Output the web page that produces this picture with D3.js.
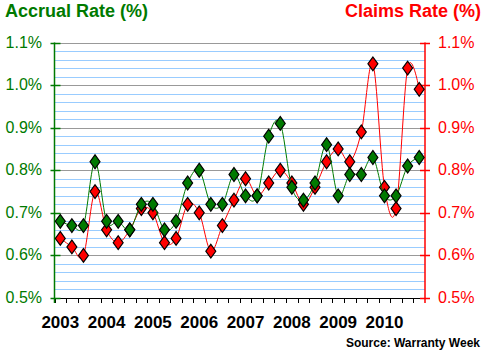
<!DOCTYPE html>
<html>
<head>
<meta charset="utf-8">
<script src="https://cdn.jsdelivr.net/npm/d3@7"></script>
<style>
  body { margin: 0; background: #fff; }
  text { font-family: "Liberation Sans", Arial, sans-serif; }
</style>
</head>
<body>
<div id="chart"></div>
<script>
// quarterly data, 2003 Q1 .. 2010 Q4
const quarters = d3.range(2003, 2011).flatMap(y => [1, 2, 3, 4].map(q => y + "Q" + q));
const years = ["2003", "2004", "2005", "2006", "2007", "2008", "2009", "2010"];
const accrualRate = [0.68, 0.67, 0.67, 0.82, 0.68, 0.68, 0.66, 0.72,
                     0.72, 0.66, 0.68, 0.77, 0.80, 0.72, 0.72, 0.79,
                     0.74, 0.74, 0.88, 0.91, 0.76, 0.73, 0.77, 0.86,
                     0.74, 0.79, 0.79, 0.83, 0.74, 0.74, 0.81, 0.83];
const claimsRate = [0.64, 0.62, 0.60, 0.75, 0.66, 0.63, 0.66, 0.71,
                    0.70, 0.63, 0.64, 0.72, 0.70, 0.61, 0.67, 0.73,
                    0.78, 0.74, 0.77, 0.80, 0.77, 0.72, 0.76, 0.82,
                    0.85, 0.82, 0.89, 1.05, 0.76, 0.71, 1.04, 0.99];
const yTicks = [0.5, 0.6, 0.7, 0.8, 0.9, 1.0, 1.1];

const W = 485, H = 362;
const plotLeft = 54.5, plotRight = 425, plotTop = 42.5, plotBottom = 298;
const green = "#007a00", red = "#ff0000";

const svg = d3.select("#chart").append("svg")
    .attr("width", W)
    .attr("height", H);

const xScale = d3.scaleBand().domain(quarters).range([plotLeft, plotRight]);
const yScale = d3.scaleLinear().domain([0.5, 1.1]).range([plotBottom, plotTop]);

// minor grid (every 0.02)
const minor = d3.range(0, 31).map(i => +(0.5 + i * 0.02).toFixed(2)).filter(v => !yTicks.includes(v));
svg.selectAll(".minorLine")
    .data(minor)
    .enter().append("line")
    .attr("x1", plotLeft).attr("x2", plotRight)
    .attr("y1", d => Math.round(yScale(d)) + 0.5)
    .attr("y2", d => Math.round(yScale(d)) + 0.5)
    .attr("stroke", "#99ccff");

svg.selectAll(".majorLine")
    .data(yTicks.slice(1))
    .enter().append("line")
    .attr("x1", plotLeft).attr("x2", plotRight)
    .attr("y1", d => Math.round(yScale(d)) + 0.5)
    .attr("y2", d => Math.round(yScale(d)) + 0.5)
    .attr("stroke", "#999999");

// bottom axis with quarter ticks
svg.append("line")
    .attr("x1", plotLeft).attr("x2", plotRight)
    .attr("y1", plotBottom + 0.5).attr("y2", plotBottom + 0.5)
    .attr("stroke", "#000");
svg.selectAll(".xTick")
    .data(quarters)
    .enter().append("line")
    .attr("x1", d => Math.round(xScale(d)) + 0.5)
    .attr("x2", d => Math.round(xScale(d)) + 0.5)
    .attr("y1", plotBottom).attr("y2", plotBottom + 5)
    .attr("stroke", "#000");

svg.selectAll(".yearLabel")
    .data(years)
    .enter().append("text")
    .attr("x", d => xScale(d + "Q1") + xScale.bandwidth() / 2)
    .attr("y", 328)
    .attr("text-anchor", "middle")
    .attr("font-size", "17px")
    .attr("font-weight", "bold")
    .attr("fill", "#000")
    .text(d => d);

// left axis (accrual)
svg.append("line")
    .attr("x1", plotLeft).attr("x2", plotLeft)
    .attr("y1", plotTop).attr("y2", plotBottom + 5)
    .attr("stroke", green).attr("stroke-width", 1.5);
svg.selectAll(".lTick")
    .data(yTicks)
    .enter().append("line")
    .attr("x1", plotLeft - 4).attr("x2", plotLeft + 6)
    .attr("y1", d => Math.round(yScale(d)) + 0.5)
    .attr("y2", d => Math.round(yScale(d)) + 0.5)
    .attr("stroke", green).attr("stroke-width", 1.5);
svg.selectAll(".lLabel")
    .data(yTicks)
    .enter().append("text")
    .attr("x", 42)
    .attr("y", d => yScale(d) + 5)
    .attr("text-anchor", "end")
    .attr("font-size", "16px")
    .attr("fill", green)
    .text(d => d.toFixed(1) + "%");

// right axis (claims)
svg.append("line")
    .attr("x1", plotRight).attr("x2", plotRight)
    .attr("y1", plotTop).attr("y2", plotBottom + 5)
    .attr("stroke", red).attr("stroke-width", 1.5);
svg.selectAll(".rTick")
    .data(yTicks)
    .enter().append("line")
    .attr("x1", plotRight - 5).attr("x2", plotRight + 5)
    .attr("y1", d => Math.round(yScale(d)) + 0.5)
    .attr("y2", d => Math.round(yScale(d)) + 0.5)
    .attr("stroke", red).attr("stroke-width", 1.5);
svg.selectAll(".rLabel")
    .data(yTicks)
    .enter().append("text")
    .attr("x", 438)
    .attr("y", d => yScale(d) + 5)
    .attr("text-anchor", "start")
    .attr("font-size", "16px")
    .attr("fill", red)
    .text(d => d.toFixed(1) + "%");

// titles
svg.append("text")
    .attr("x", 5).attr("y", 17)
    .attr("font-size", "18px").attr("font-weight", "bold")
    .attr("fill", green)
    .text("Accrual Rate (%)");
svg.append("text")
    .attr("x", 481).attr("y", 17)
    .attr("text-anchor", "end")
    .attr("font-size", "18px").attr("font-weight", "bold")
    .attr("fill", red)
    .text("Claims Rate (%)");
svg.append("text")
    .attr("x", 480).attr("y", 347)
    .attr("text-anchor", "end")
    .attr("font-size", "12px").attr("font-weight", "bold")
    .attr("fill", "#000")
    .text("Source: Warranty Week");

// series
const cx = (d, i) => xScale(quarters[i]) + xScale.bandwidth() / 2;
const line = d3.line()
    .x(cx)
    .y(d => yScale(d))
    .curve(d3.curveCardinal.tension(0));
const diamond = d3.symbol().type(d3.symbolDiamond).size(55);

function drawSeries(values, color) {
    svg.append("path")
        .datum(values)
        .attr("d", line)
        .attr("fill", "none")
        .attr("stroke", color)
        .attr("stroke-width", 1);
    svg.append("g").selectAll("path")
        .data(values)
        .enter().append("path")
        .attr("d", diamond)
        .attr("transform", (d, i) => `translate(${cx(d, i)},${yScale(d)}) scale(1.25,1)`)
        .attr("fill", color)
        .attr("stroke", "#000")
        .attr("stroke-width", 1);
}
drawSeries(claimsRate, red);
drawSeries(accrualRate, green);
</script>
</body>
</html>
